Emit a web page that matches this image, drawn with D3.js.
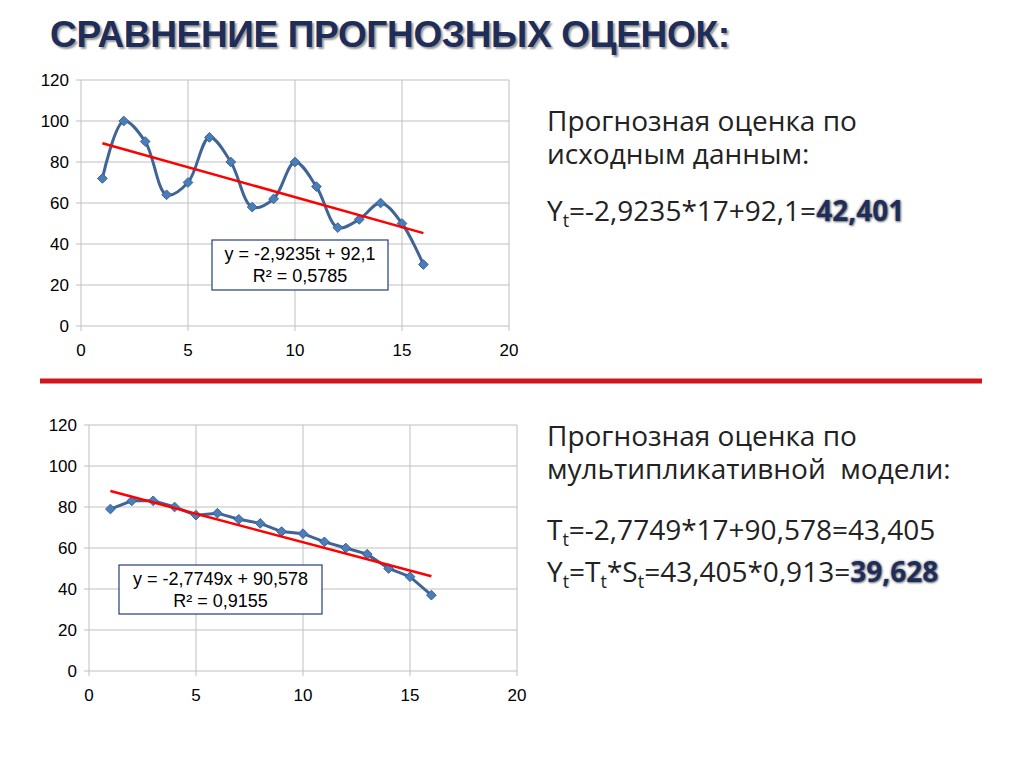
<!DOCTYPE html>
<html><head><meta charset="utf-8">
<script src="https://cdn.jsdelivr.net/npm/d3@7"></script>
<style>body{margin:0;background:#fff;font-family:Arial,"Liberation Sans",sans-serif} text{white-space:pre}</style>
</head><body>
<svg id="s" width="1024" height="767"></svg>
<script>
const t = d3.range(1,17);
const origValues = [72,100,90,64,70,92,80,58,62,80,68,48,52,60,50,30];
const multValues = [79,83,83,80,76,77,74,72,68,67,63,60,57,50,46,37];
const xTicks = [0,5,10,15,20];
const yTicks = [0,20,40,60,80,100,120];
const trend1 = {a:-2.9235,b:92.1,label:["y = -2,9235t + 92,1","R² = 0,5785"]};
const trend2 = {a:-2.7749,b:90.578,label:["y = -2,7749x + 90,578","R² = 0,9155"]};

const svg = d3.select("#s");
svg.append("text").attr("x",50).attr("y",47).attr("font-size",37).attr("font-weight","bold")
  .attr("font-family","Liberation Sans, Arial").attr("fill","#1f2d5a").attr("textLength",680)
  .attr("style","text-shadow:2px 2px 2px #999").text("СРАВНЕНИЕ ПРОГНОЗНЫХ ОЦЕНОК:");
svg.append("line").attr("x1",40).attr("x2",982).attr("y1",381).attr("y2",381).attr("stroke","#d0161b").attr("stroke-width",5);

function chart(x0,x1,y0,y1,vals,tr,box,smooth){
  const x=d3.scaleLinear().domain([0,20]).range([x0,x1]);
  const y=d3.scaleLinear().domain([0,120]).range([y0,y1]);
  const g=svg.append("g");
  yTicks.forEach(v=>g.append("line").attr("x1",x0-5).attr("x2",x1).attr("y1",y(v)).attr("y2",y(v)).attr("stroke","#bfbfbf"));
  xTicks.forEach(v=>g.append("line").attr("x1",x(v)).attr("x2",x(v)).attr("y1",y(120)).attr("y2",y0+5).attr("stroke","#bfbfbf"));
  yTicks.forEach(v=>g.append("text").attr("x",x0-12).attr("y",y(v)+6).attr("text-anchor","end").attr("font-size",17).text(v));
  xTicks.forEach(v=>g.append("text").attr("x",x(v)).attr("y",y0+30).attr("text-anchor","middle").attr("font-size",17).text(v));
  const line=d3.line().x((d,i)=>x(t[i])).y(d=>y(d)).curve(smooth?d3.curveCatmullRom.alpha(0.5):d3.curveLinear);
  g.append("path").attr("d",line(vals)).attr("fill","none").attr("stroke","#3e6595").attr("stroke-width",3);
  vals.forEach((v,i)=>g.append("path").attr("d",d3.symbol(d3.symbolDiamond2,60)()).attr("transform",`translate(${x(t[i])},${y(v)})`).attr("fill","#4a7ebb").attr("stroke","#3a6290"));
  g.append("line").attr("x1",x(1)).attr("x2",x(16)).attr("y1",y(tr.a*1+tr.b)).attr("y2",y(tr.a*16+tr.b)).attr("stroke","#ff0000").attr("stroke-width",2.5);
  g.append("rect").attr("x",box[0]).attr("y",box[1]).attr("width",box[2]).attr("height",box[3]).attr("fill","#fff").attr("stroke","#243f7a").attr("stroke-width",1.2);
  tr.label.forEach((s,i)=>g.append("text").attr("x",box[0]+box[2]/2).attr("y",box[1]+20+i*22).attr("text-anchor","middle").attr("font-size",18).text(s));
}
chart(81,509,326,80,origValues,trend1,[212,240,176,50],true);
chart(89,517,671,425,multValues,trend2,[119,565,203,49],false);

function txt(x,y,parts){
  const e=svg.append("text").attr("x",x).attr("y",y).attr("font-size",28).attr("fill","#222").attr("font-family","Open Sans, Liberation Sans");
  parts.forEach(p=>{
    const ts=e.append("tspan").text(p.t);
    if(p.sub) ts.attr("font-size",18).attr("dy",6);
    if(p.up) ts.attr("dy",-6);
    if(p.b) ts.attr("font-weight","bold").attr("fill","#1f2d5a").attr("style","text-shadow:0 0 3px #8a8a8a, 1px 1px 2px #777");
  });
}
txt(547,131,[{t:"Прогнозная оценка по"}]);
txt(547,164,[{t:"исходным данным:"}]);
txt(547,221,[{t:"Y"},{t:"t",sub:1},{t:"=-2,9235*17+92,1=",up:1},{t:"42,401",b:1}]);
txt(547,446,[{t:"Прогнозная оценка по"}]);
txt(547,479,[{t:"мультипликативной  модели:"}]);
txt(547,540,[{t:"T"},{t:"t",sub:1},{t:"=-2,7749*17+90,578=43,405",up:1}]);
txt(547,582,[{t:"Y"},{t:"t",sub:1},{t:"=T",up:1},{t:"t",sub:1},{t:"*S",up:1},{t:"t",sub:1},{t:"=43,405*0,913=",up:1},{t:"39,628",b:1}]);
</script>
</body></html>
